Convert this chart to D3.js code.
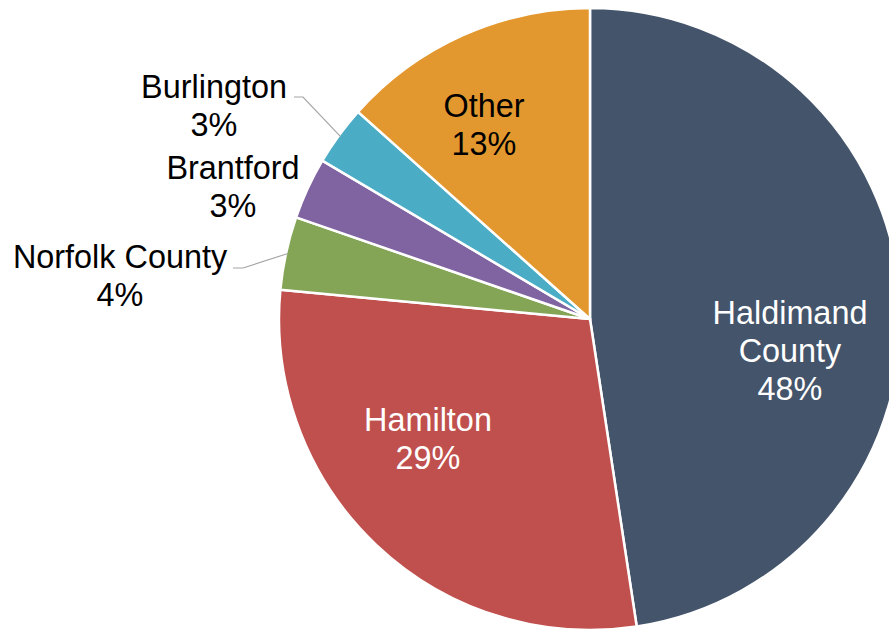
<!DOCTYPE html>
<html>
<head>
<meta charset="utf-8">
<script src="https://cdn.jsdelivr.net/npm/d3@7"></script>
<style>
  html, body { margin: 0; padding: 0; background: #ffffff; }
  svg { display: block; }
  text { font-family: "Liberation Sans", Arial, sans-serif; font-size: 32.4px; }
</style>
</head>
<body>
<div id="chart"></div>
<script>
// Share of visitors by place of origin (percent)
const categories = ["Haldimand County", "Hamilton", "Norfolk County", "Brantford", "Burlington", "Other"];
const shares = [47.6, 28.9, 3.8, 3.2, 3.1, 13.4];
const labelLines = [["Haldimand", "County"], ["Hamilton"], ["Norfolk County"], ["Brantford"], ["Burlington"], ["Other"]];

const colors = ["#44546a", "#c0504d", "#84a456", "#8064a2", "#4bacc6", "#e3982f"];

const width = 889, height = 630;
const cx = 590, cy = 319, radius = 311;

// Label placement: centre x and first baseline, relative to the pie centre,
// plus text colour and optional leader line start and bend point.
const labelLayout = {
  "Haldimand County": { x: 200, y: 5, fill: "#ffffff" },
  "Hamilton":         { x: -162, y: 112, fill: "#ffffff" },
  "Norfolk County":   { x: -470, y: -51, fill: "#000000", leader: { from: [-357, -51], bend: [-347, -51] } },
  "Brantford":        { x: -357, y: -140, fill: "#000000" },
  "Burlington":       { x: -376, y: -221, fill: "#000000", leader: { from: [-296, -222], bend: [-287, -222] } },
  "Other":            { x: -106, y: -202, fill: "#000000" }
};
const lineHeight = 37.8;

const data = categories.map((c, i) => ({ name: c, value: shares[i], lines: labelLines[i], color: colors[i] }));

const svg = d3.select("#chart").append("svg")
  .attr("width", width)
  .attr("height", height);

const g = svg.append("g").attr("transform", `translate(${cx},${cy})`);

const pie = d3.pie().value(d => d.value).sort(null);
const arcs = pie(data);
const arc = d3.arc().innerRadius(0).outerRadius(radius);
const edgeArc = d3.arc().innerRadius(radius - 2).outerRadius(radius - 2);

g.selectAll("path.slice")
  .data(arcs)
  .join("path")
  .attr("class", "slice")
  .attr("d", arc)
  .attr("fill", d => d.data.color)
  .attr("stroke", "#ffffff")
  .attr("stroke-width", 2.5)
  .attr("stroke-linejoin", "round");

// Leader lines for the small outside labels, ending at the slice edge
g.selectAll("polyline.leader")
  .data(arcs.filter(d => labelLayout[d.data.name].leader))
  .join("polyline")
  .attr("class", "leader")
  .attr("fill", "none")
  .attr("stroke", "#a6a6a6")
  .attr("stroke-width", 1.2)
  .attr("points", d => {
    const L = labelLayout[d.data.name].leader;
    const end = edgeArc.centroid(d);
    return [L.from, L.bend, end].map(p => p.join(",")).join(" ");
  });

const fmt = d3.format(".0%");
const total = d3.sum(shares);

const labels = g.selectAll("text.label")
  .data(arcs)
  .join("text")
  .attr("class", "label")
  .attr("text-anchor", "middle")
  .attr("fill", d => labelLayout[d.data.name].fill);

labels.each(function(d) {
  const L = labelLayout[d.data.name];
  const t = d3.select(this);
  const lines = d.data.lines.concat([fmt(d.data.value / total)]);
  lines.forEach((s, i) => {
    t.append("tspan")
      .attr("x", L.x)
      .attr("y", L.y + i * lineHeight)
      .text(s);
  });
});
</script>
</body>
</html>
